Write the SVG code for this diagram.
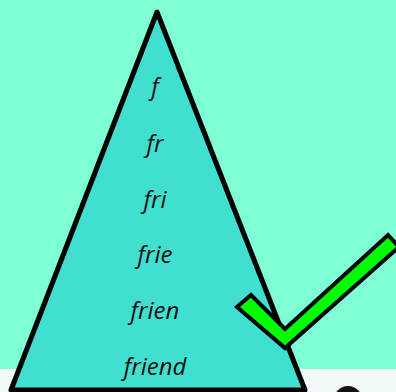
<svg xmlns="http://www.w3.org/2000/svg" width="396" height="392" viewBox="0 0 396 392">
<style>
.t{font-family:"Open Sans","Noto Sans",sans-serif;font-style:italic;font-size:24px;fill:#111;text-anchor:middle}
</style>
<rect x="0" y="0" width="396" height="392" fill="#7FFFD4"/>
<rect x="0" y="369" width="396" height="23" fill="#F2F9FB"/>
<ellipse cx="348" cy="402" rx="15" ry="16" fill="#111"/>
<g id="triangle">
<polygon points="157,12 11,390 305,390" fill="#40DFD0" stroke="#000" stroke-width="5" stroke-linejoin="round"/>
</g>
<g id="labels">
<text class="t" x="155" y="95">f</text>
<text class="t" x="155" y="152">fr</text>
<text class="t" x="155" y="208">fri</text>
<text class="t" x="155" y="263">frie</text>
<text class="t" x="155" y="319">frien</text>
<text class="t" x="155" y="375">friend</text>
</g>
<g id="check">
<polygon points="237,307 251,295 285,329 388,235 399,247 285,348" fill="#00FF00" stroke="#000" stroke-width="4" stroke-linejoin="miter"/>
</g>
</svg>
